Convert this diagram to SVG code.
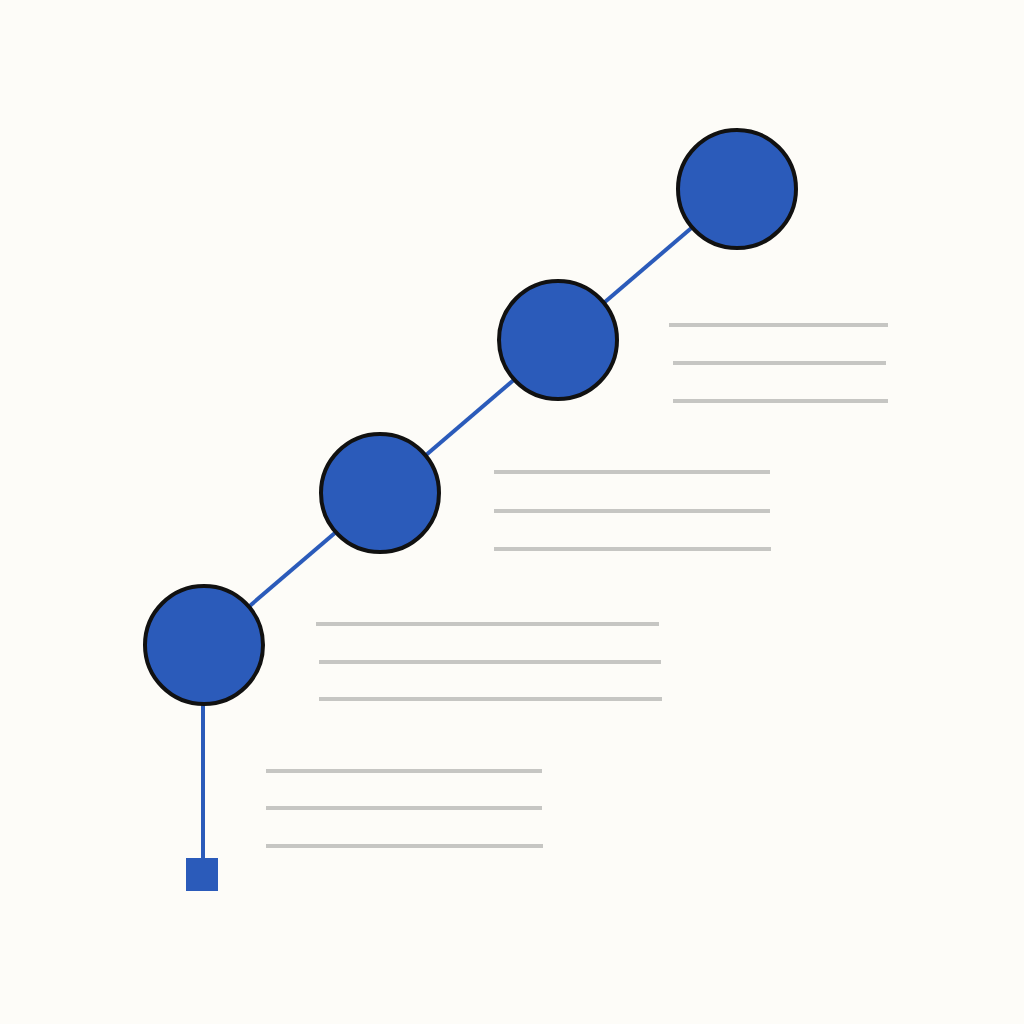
<svg xmlns="http://www.w3.org/2000/svg" width="1024" height="1024" viewBox="0 0 1024 1024">
<style>
.node{fill:#2B5BBA;stroke:#111;stroke-width:4}
.conn{stroke:#2B5BBA;stroke-width:4;fill:none}
.txt{stroke:#C6C6C3;stroke-width:4;stroke-linecap:butt}
</style>
<rect width="1024" height="1024" fill="#FDFCF8"/>
<g id="connectors">
<line class="conn" x1="204" y1="645" x2="737" y2="189"/>
<line class="conn" x1="203" y1="700" x2="203" y2="860"/>
</g>
<g id="start"><rect x="186" y="858" width="32" height="33" fill="#2B5BBA"/></g>
<g id="node1"><circle class="node" cx="204" cy="645" r="59"/></g>
<g id="node2"><circle class="node" cx="380" cy="493" r="59"/></g>
<g id="node3"><circle class="node" cx="558" cy="340" r="59"/></g>
<g id="node4"><circle class="node" cx="737" cy="189" r="59"/></g>
<g id="lines4">
<line class="txt" x1="669" y1="325" x2="888" y2="325"/>
<line class="txt" x1="673" y1="363" x2="886" y2="363"/>
<line class="txt" x1="673" y1="401" x2="888" y2="401"/>
</g>
<g id="lines3">
<line class="txt" x1="494" y1="472" x2="770" y2="472"/>
<line class="txt" x1="494" y1="511" x2="770" y2="511"/>
<line class="txt" x1="494" y1="549" x2="771" y2="549"/>
</g>
<g id="lines2">
<line class="txt" x1="316" y1="624" x2="659" y2="624"/>
<line class="txt" x1="319" y1="662" x2="661" y2="662"/>
<line class="txt" x1="319" y1="699" x2="662" y2="699"/>
</g>
<g id="lines1">
<line class="txt" x1="266" y1="771" x2="542" y2="771"/>
<line class="txt" x1="266" y1="808" x2="542" y2="808"/>
<line class="txt" x1="266" y1="846" x2="543" y2="846"/>
</g>
</svg>
